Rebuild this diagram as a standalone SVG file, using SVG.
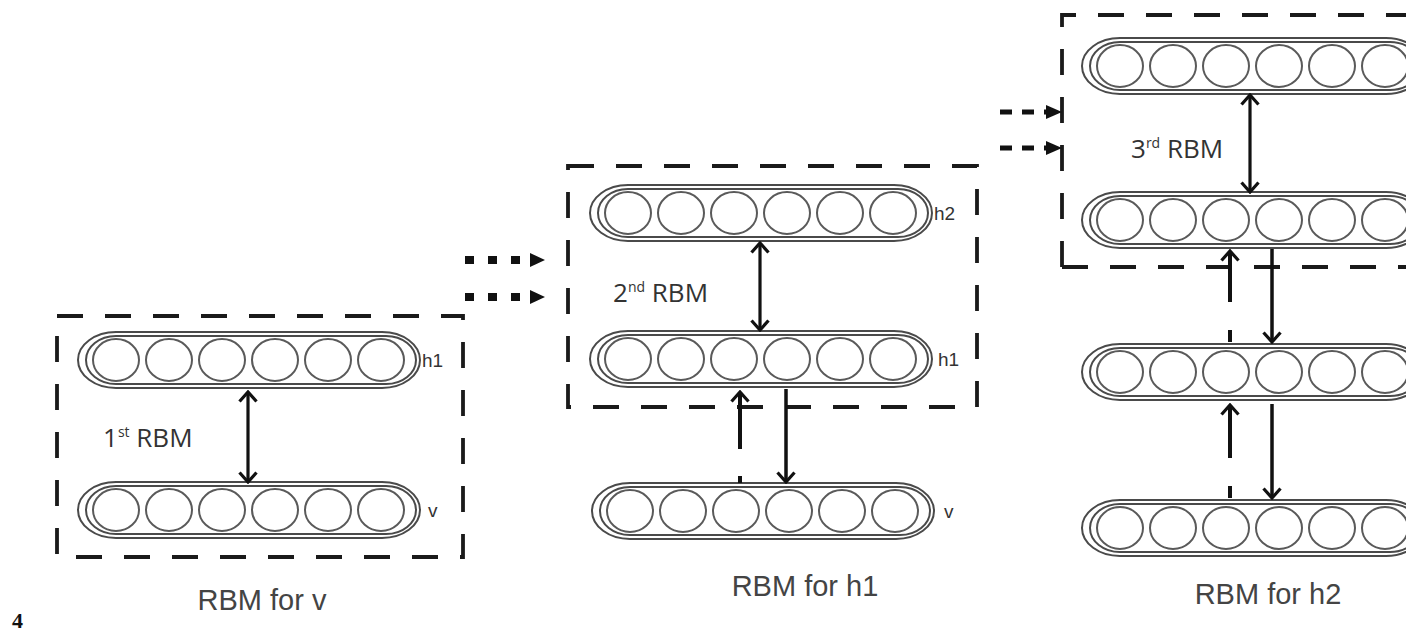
<svg xmlns="http://www.w3.org/2000/svg" xmlns:xlink="http://www.w3.org/1999/xlink" width="1406" height="640" viewBox="0 0 1406 640">
<style>
.box{fill:none;stroke:#1a1a1a;stroke-width:3.8;stroke-dasharray:26 22}
.cap{fill:none;stroke:#4a4a4a;stroke-width:2}
.unit{fill:none;stroke:#5a5a5a;stroke-width:2}
.lbl{font-family:"Liberation Sans",Arial,sans-serif;font-size:19px;fill:#333}
.rbm{font-family:"Open Sans","Liberation Sans",sans-serif;font-size:26px;fill:#333}
.cap-t{font-family:"Liberation Sans",Arial,sans-serif;font-size:29px;fill:#444}
.dbl{fill:none;stroke:#111;stroke-width:3.2;marker-start:url(#open);marker-end:url(#open)}
.up{fill:none;stroke:#111;stroke-width:4;marker-end:url(#open)}
.down{fill:none;stroke:#111;stroke-width:3.5;marker-end:url(#open)}
.dots{fill:none;stroke:#111;stroke-width:8;stroke-dasharray:9 14}
.dash{fill:none;stroke:#111;stroke-width:5;stroke-dasharray:12 10}
.tri{fill:#111}
</style>
<defs>
<marker id="open" viewBox="0 0 13 20" refX="11" refY="10" markerWidth="13" markerHeight="20" markerUnits="userSpaceOnUse" orient="auto-start-reverse">
<path d="M1.5,1.5 L11,10 L1.5,18.5" fill="none" stroke="#111" stroke-width="3.2"/>
</marker>
<g id="layer">
<rect class="cap" x="-170" y="-28" width="342" height="56" rx="38" ry="28"/>
<rect class="cap" x="-162" y="-24" width="330" height="48" rx="30" ry="24"/>
<ellipse class="unit" cx="-132" cy="0" rx="23" ry="21"/>
<ellipse class="unit" cx="-79" cy="0" rx="23" ry="21"/>
<ellipse class="unit" cx="-26" cy="0" rx="23" ry="21"/>
<ellipse class="unit" cx="27" cy="0" rx="23" ry="21"/>
<ellipse class="unit" cx="80" cy="0" rx="23" ry="21"/>
<ellipse class="unit" cx="133" cy="0" rx="23" ry="21"/>
</g>
</defs>
<rect width="1406" height="640" fill="#fff"/>

<!-- Panel 1 -->
<g id="panel1">
<rect class="box" x="57" y="316" width="406" height="241"/>
<text class="cap-t" x="262" y="610" text-anchor="middle">RBM for v</text>
</g>
<g id="p1_h1"><use xlink:href="#layer" x="248" y="360"/><text class="lbl" x="422" y="367">h1</text></g>
<g id="p1_v"><use xlink:href="#layer" x="248" y="510"/><text class="lbl" x="428" y="517">v</text></g>
<g id="p1_label"><text class="rbm" x="103" y="447">1<tspan font-size="14" dy="-10">st</tspan><tspan dy="10"> RBM</tspan></text></g>

<!-- Panel 2 -->
<g id="panel2">
<rect class="box" x="568" y="166" width="409" height="241"/>
<text class="cap-t" x="805" y="596" text-anchor="middle">RBM for h1</text>
</g>
<g id="p2_h2"><use xlink:href="#layer" x="760" y="213"/><text class="lbl" x="934" y="220">h2</text></g>
<g id="p2_h1"><use xlink:href="#layer" x="760" y="359"/><text class="lbl" x="938" y="366">h1</text></g>
<g id="p2_v"><use xlink:href="#layer" x="762" y="511"/><text class="lbl" x="944" y="518">v</text></g>
<g id="p2_label"><text class="rbm" x="613" y="302">2<tspan font-size="14" dy="-10">nd</tspan><tspan dy="10"> RBM</tspan></text></g>

<!-- Panel 3 -->
<g id="panel3">
<path class="box" d="M1062,267 V15 H1420 M1062,267 H1420"/>
<text class="cap-t" x="1268" y="604" text-anchor="middle">RBM for h2</text>
</g>
<g id="p3_r1"><use xlink:href="#layer" x="1252" y="66"/></g>
<g id="p3_r2"><use xlink:href="#layer" x="1252" y="220"/></g>
<g id="p3_r3"><use xlink:href="#layer" x="1252" y="372"/></g>
<g id="p3_r4"><use xlink:href="#layer" x="1252" y="528"/></g>
<g id="p3_label"><text class="rbm" x="1131" y="158">3<tspan font-size="14" dy="-10">rd</tspan><tspan dy="10"> RBM</tspan></text></g>

<!-- Connectors -->
<g id="connectors">
<path class="dbl" d="M248,392 V482"/>
<path class="dbl" d="M760,243 V330"/>
<path class="dbl" d="M1250,95 V192"/>

<path class="up" d="M740,483 V392" stroke-dasharray="7 27 60"/>
<path class="down" d="M786,389 V482"/>

<path class="up" d="M1230,342 V251" stroke-dasharray="12 28 60"/>
<path class="down" d="M1272,249 V342" stroke-width="3"/>
<path class="up" d="M1230,498 V405" stroke-dasharray="12 28 60"/>
<path class="down" d="M1272,404 V498" stroke-width="3"/>

<path class="dots" d="M465,260 H530"/>
<polygon class="tri" points="530,253 545,260 530,267"/>
<path class="dots" d="M465,297 H530" stroke-width="7"/>
<polygon class="tri" points="530,290 545,297 530,304"/>

<path class="dash" d="M1000,112 H1046"/>
<polygon class="tri" points="1046,105 1062,112 1046,119"/>
<path class="dash" d="M1000,148 H1046"/>
<polygon class="tri" points="1046,141 1062,148 1046,155"/>
</g>

<text x="12" y="628" font-family="'Liberation Serif','DejaVu Serif',serif" font-weight="bold" font-size="22" fill="#111">4</text>
</svg>
